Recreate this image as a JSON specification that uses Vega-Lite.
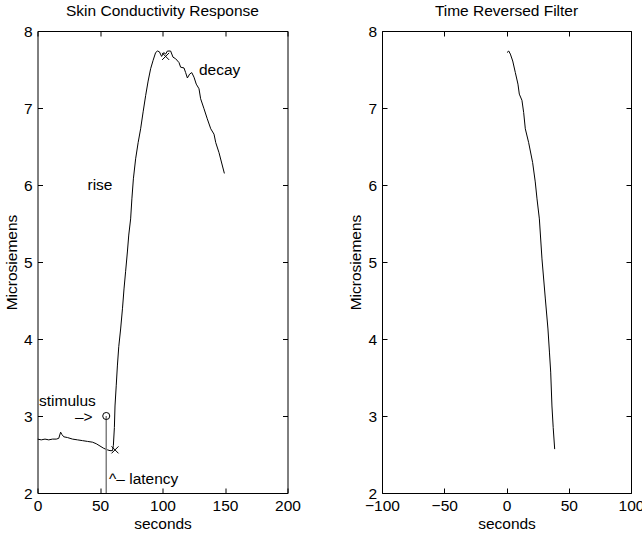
{
  "$schema": "https://vega.github.io/schema/vega-lite/v6.json",
  "padding": {"left": 3.5, "top": 3, "right": 0, "bottom": 0},
  "background": "white",
  "config": {
    "font": "Liberation Sans",
    "view": {"stroke": "black", "strokeWidth": 1},
    "axis": {
      "domain": false, "grid": false, "tickColor": "black", "tickSize": -5, "tickWidth": 1,
      "labelPadding": 10, "labelColor": "black", "titleColor": "black",
      "labelFont": "Liberation Sans", "titleFont": "Liberation Sans",
      "labelFontSize": 15.5, "titleFontSize": 15.5, "titleFontWeight": "normal",
      "labelFlush": false, "labelOverlap": false, "labelBound": false
    },
    "axisLeft": {"labelPadding": 10.5},
    "title": {"font": "Liberation Sans", "fontSize": 15.5, "fontWeight": "normal", "color": "black", "offset": 5}
  },
  "datasets": {
    "scr": [
      {"t": 0, "v": 2.70}, {"t": 3, "v": 2.69}, {"t": 6, "v": 2.70}, {"t": 9, "v": 2.69},
      {"t": 12, "v": 2.70}, {"t": 15, "v": 2.70}, {"t": 17, "v": 2.71}, {"t": 18.5, "v": 2.79},
      {"t": 19.5, "v": 2.76}, {"t": 21, "v": 2.73}, {"t": 24, "v": 2.72}, {"t": 28, "v": 2.70},
      {"t": 32, "v": 2.69}, {"t": 36, "v": 2.68}, {"t": 40, "v": 2.67}, {"t": 44, "v": 2.66},
      {"t": 47, "v": 2.64}, {"t": 50, "v": 2.61}, {"t": 53, "v": 2.58}, {"t": 56, "v": 2.56},
      {"t": 58, "v": 2.55}, {"t": 60, "v": 2.55}, {"t": 60.7, "v": 2.62}, {"t": 61.5, "v": 2.85},
      {"t": 62, "v": 3.13}, {"t": 63, "v": 3.40}, {"t": 63.9, "v": 3.65}, {"t": 65, "v": 3.90},
      {"t": 66.5, "v": 4.13}, {"t": 68, "v": 4.40}, {"t": 69.2, "v": 4.65}, {"t": 70.5, "v": 4.88},
      {"t": 71.9, "v": 5.13}, {"t": 73, "v": 5.35}, {"t": 74.5, "v": 5.56}, {"t": 75.5, "v": 5.82},
      {"t": 76.7, "v": 6.08}, {"t": 78.5, "v": 6.34}, {"t": 80.5, "v": 6.55}, {"t": 82.5, "v": 6.73},
      {"t": 84.5, "v": 6.95}, {"t": 86.5, "v": 7.16}, {"t": 88.5, "v": 7.35}, {"t": 90.5, "v": 7.51},
      {"t": 92.5, "v": 7.62}, {"t": 94.5, "v": 7.72}, {"t": 96, "v": 7.74}, {"t": 97.5, "v": 7.73},
      {"t": 99.3, "v": 7.67}, {"t": 101, "v": 7.72}, {"t": 102.5, "v": 7.70}, {"t": 103.9, "v": 7.74},
      {"t": 106.5, "v": 7.74}, {"t": 108.4, "v": 7.66}, {"t": 110.5, "v": 7.64}, {"t": 113.2, "v": 7.59},
      {"t": 114.5, "v": 7.53}, {"t": 117.2, "v": 7.52}, {"t": 118.5, "v": 7.46}, {"t": 119.9, "v": 7.39},
      {"t": 121.7, "v": 7.44}, {"t": 123.4, "v": 7.46}, {"t": 125.2, "v": 7.40}, {"t": 127, "v": 7.31},
      {"t": 129.2, "v": 7.25}, {"t": 130.5, "v": 7.12}, {"t": 133.2, "v": 6.99}, {"t": 135.8, "v": 6.86},
      {"t": 138.6, "v": 6.73}, {"t": 141.2, "v": 6.66}, {"t": 142.6, "v": 6.55}, {"t": 145.2, "v": 6.42},
      {"t": 149.5, "v": 6.15}
    ],
    "rev": [
      {"t": 0.4, "v": 7.72}, {"t": 1.8, "v": 7.74}, {"t": 3.1, "v": 7.70}, {"t": 5, "v": 7.61},
      {"t": 7.1, "v": 7.46}, {"t": 9.2, "v": 7.31}, {"t": 10.3, "v": 7.18}, {"t": 12.4, "v": 7.10},
      {"t": 13.8, "v": 6.94}, {"t": 15.1, "v": 6.73}, {"t": 17.8, "v": 6.55}, {"t": 21, "v": 6.29},
      {"t": 23.1, "v": 6.04}, {"t": 24.5, "v": 5.82}, {"t": 26.4, "v": 5.56}, {"t": 28.5, "v": 5.04},
      {"t": 31.2, "v": 4.52}, {"t": 33.3, "v": 4.13}, {"t": 34.5, "v": 3.83}, {"t": 35.5, "v": 3.57},
      {"t": 36.5, "v": 3.13}, {"t": 37.5, "v": 2.85}, {"t": 38.7, "v": 2.57}
    ],
    "labels": [
      {"t": 1.2, "v": 3.19, "label": "stimulus"},
      {"t": 30, "v": 2.99, "label": "–>"},
      {"t": 57.2, "v": 2.18, "label": "^– latency"},
      {"t": 40, "v": 6.0, "label": "rise"},
      {"t": 129.2, "v": 7.5, "label": "decay"}
    ],
    "crosses": [{"t": 62, "v": 2.56}, {"t": 102.5, "v": 7.67}],
    "stim": [{"t": 55, "v": 2, "v2": 3}]
  },
  "hconcat": [
    {
      "width": 250, "height": 462,
      "title": "Skin Conductivity Response",
      "resolve": {"axis": {"x": "independent", "y": "independent"}},
      "layer": [
        {
          "data": {"name": "scr"},
          "mark": {"type": "line", "color": "black", "strokeWidth": 1, "clip": true},
          "encoding": {
            "x": {"field": "t", "type": "quantitative", "scale": {"domain": [0, 200], "nice": false, "zero": false},
                  "axis": {"orient": "bottom", "values": [0, 50, 100, 150, 200], "title": "seconds", "titlePadding": 3}},
            "y": {"field": "v", "type": "quantitative", "scale": {"domain": [2, 8], "nice": false, "zero": false},
                  "axis": {"orient": "left", "values": [2, 3, 4, 5, 6, 7, 8], "title": "Microsiemens", "titlePadding": 4}}
          }
        },
        {
          "data": {"name": "scr"},
          "mark": {"type": "line", "opacity": 0},
          "encoding": {
            "x": {"field": "t", "type": "quantitative", "axis": {"orient": "top", "values": [0, 50, 100, 150, 200], "labels": false, "title": null}},
            "y": {"field": "v", "type": "quantitative", "axis": {"orient": "right", "values": [2, 3, 4, 5, 6, 7, 8], "labels": false, "title": null}}
          }
        },
        {
          "data": {"name": "stim"},
          "mark": {"type": "rule", "color": "#808080", "strokeWidth": 1.5},
          "encoding": {
            "x": {"field": "t", "type": "quantitative", "axis": null},
            "y": {"field": "v", "type": "quantitative", "axis": null},
            "y2": {"field": "v2"}
          }
        },
        {
          "data": {"name": "stim"},
          "mark": {"type": "point", "shape": "circle", "filled": false, "color": "black", "strokeWidth": 1, "size": 50, "opacity": 1},
          "encoding": {
            "x": {"field": "t", "type": "quantitative", "axis": null},
            "y": {"field": "v2", "type": "quantitative", "axis": null}
          }
        },
        {
          "data": {"name": "crosses"},
          "mark": {"type": "point", "shape": "M-1,-1L1,1M-1,1L1,-1", "filled": false, "color": "black", "strokeWidth": 1, "size": 49, "opacity": 1},
          "encoding": {
            "x": {"field": "t", "type": "quantitative", "axis": null},
            "y": {"field": "v", "type": "quantitative", "axis": null}
          }
        },
        {
          "data": {"name": "labels"},
          "mark": {"type": "text", "align": "left", "baseline": "middle", "fontSize": 15.5, "color": "black"},
          "encoding": {
            "x": {"field": "t", "type": "quantitative", "axis": null},
            "y": {"field": "v", "type": "quantitative", "axis": null},
            "text": {"field": "label"}
          }
        }
      ]
    },
    {
      "width": 249, "height": 462,
      "title": "Time Reversed Filter",
      "resolve": {"axis": {"x": "independent", "y": "independent"}},
      "layer": [
        {
          "data": {"name": "rev"},
          "mark": {"type": "line", "color": "black", "strokeWidth": 1, "clip": true},
          "encoding": {
            "x": {"field": "t", "type": "quantitative", "scale": {"domain": [-100, 100], "nice": false, "zero": false},
                  "axis": {"orient": "bottom", "values": [-100, -50, 0, 50, 100], "title": "seconds", "titlePadding": 3}},
            "y": {"field": "v", "type": "quantitative", "scale": {"domain": [2, 8], "nice": false, "zero": false},
                  "axis": {"orient": "left", "values": [2, 3, 4, 5, 6, 7, 8], "title": "Microsiemens", "titlePadding": 4}}
          }
        },
        {
          "data": {"name": "rev"},
          "mark": {"type": "line", "opacity": 0},
          "encoding": {
            "x": {"field": "t", "type": "quantitative", "axis": {"orient": "top", "values": [-100, -50, 0, 50, 100], "labels": false, "title": null}},
            "y": {"field": "v", "type": "quantitative", "axis": {"orient": "right", "values": [2, 3, 4, 5, 6, 7, 8], "labels": false, "title": null}}
          }
        }
      ]
    }
  ],
  "spacing": 46.5
}
